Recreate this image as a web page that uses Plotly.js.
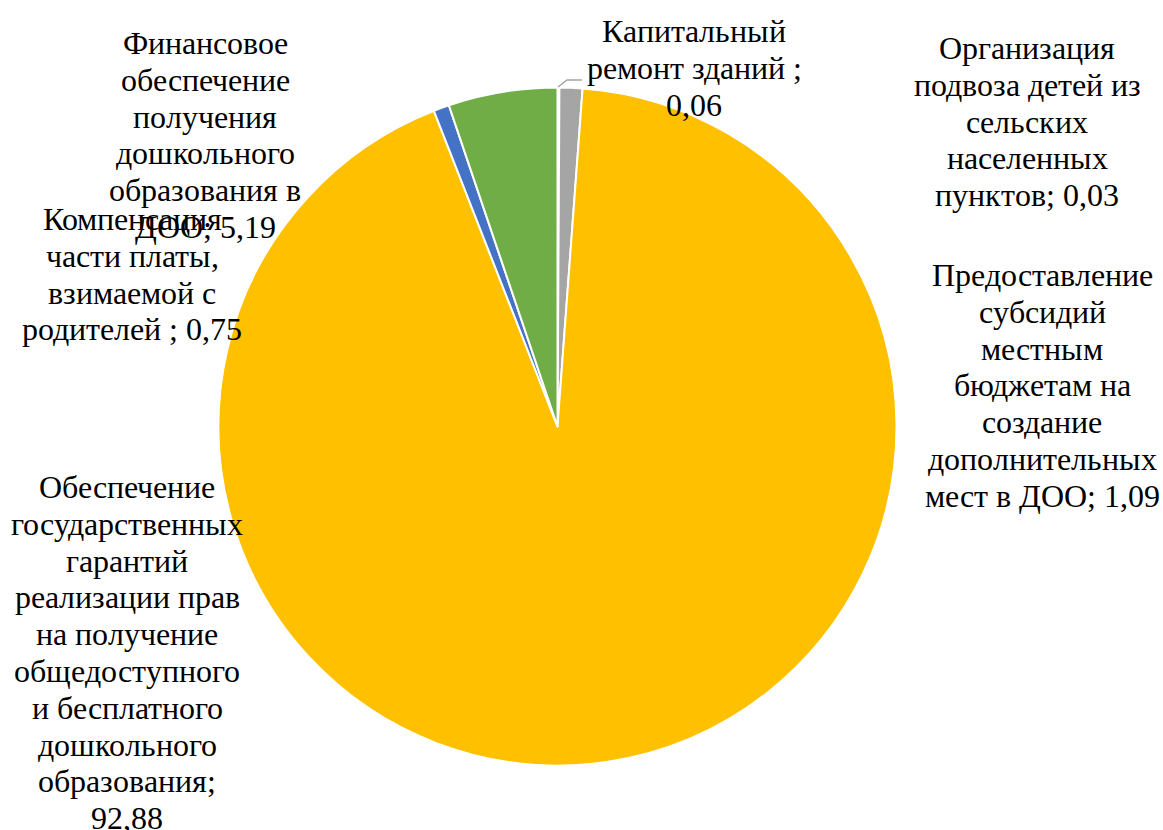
<!DOCTYPE html>
<html>
<head>
<meta charset="utf-8">
<script src="https://cdn.plot.ly/plotly-3.0.1.min.js"></script>
<style>
@font-face {
  font-family: 'LabelSerif';
  src: local('Liberation Serif'), local('LiberationSerif'), local('LiberationSerif-Regular'), local('Times New Roman');
  font-display: block;
}
html,body{margin:0;padding:0;background:#fff;}
#chart{width:1163px;height:830px;}
</style>
</head>
<body>
<div id="chart"></div>
<script>
// Data
const categories = [
  "Капитальный ремонт зданий",
  "Организация подвоза детей из сельских населенных пунктов",
  "Предоставление субсидий местным бюджетам на создание дополнительных мест в ДОО",
  "Обеспечение государственных гарантий реализации прав на получение общедоступного и бесплатного дошкольного образования",
  "Компенсация части платы, взимаемой с родителей",
  "Финансовое обеспечение получения дошкольного образования в ДОО"
];
const values = [0.06, 0.03, 1.09, 92.88, 0.75, 5.19];
const valueLabels = ["0,06", "0,03", "1,09", "92,88", "0,75", "5,19"];
const labelLines = [
  ["Капитальный", "ремонт зданий ;", "0,06"],
  ["Организация", "подвоза детей из", "сельских", "населенных", "пунктов; 0,03"],
  ["Предоставление", "субсидий", "местным", "бюджетам на", "создание", "дополнительных", "мест в ДОО; 1,09"],
  ["Обеспечение", "государственных", "гарантий", "реализации прав", "на получение", "общедоступного", "и бесплатного", "дошкольного", "образования;", "92,88"],
  ["Компенсация", "части платы,", "взимаемой с", "родителей ; 0,75"],
  ["Финансовое", "обеспечение", "получения", "дошкольного", "образования в", "ДОО; 5,19"]
];
const colors = ["#4472C4", "#ED7D31", "#A5A5A5", "#FFC000", "#4472C4", "#70AD47"];

// Layout (label placement in pixels: center x, first line center y)
const W = 1163, H = 830;
const labelPos = [
  [694, 31], [1027, 48], [1042, 275], [127, 487], [132, 219], [205, 43]
];
const lineGap = 36.8;
const FONT = 'LabelSerif, Liberation Serif, serif';

function buildLayout() {
  const annotations = [];
  labelLines.forEach((lines, i) => {
    lines.forEach((t, j) => {
      annotations.push({
        text: t, showarrow: false,
        xref: 'paper', yref: 'paper',
        x: labelPos[i][0] / W, y: 1 - (labelPos[i][1] + j * lineGap) / H,
        xanchor: 'center', yanchor: 'middle',
        font: {family: FONT, size: 32, color: '#000'}
      });
    });
  });
  const shapes = [{
    type: 'path', xref: 'paper', yref: 'paper',
    path: 'M ' + (558/W) + ',' + (1-87/H) + ' L ' + (567/W) + ',' + (1-80/H) + ' L ' + (582/W) + ',' + (1-80/H),
    line: {color: '#A5A5A5', width: 1.5}
  }];
  return {
    width: W, height: H,
    margin: {l: 0, r: 0, t: 0, b: 0},
    paper_bgcolor: '#ffffff',
    showlegend: false,
    annotations: annotations,
    shapes: shapes
  };
}

const cx = 557.5, cy = 426.5, r = 339;
function buildTrace() {
  return {
    type: 'pie',
    labels: categories,
    values: values,
    sort: false,
    direction: 'clockwise',
    rotation: 0,
    textinfo: 'none',
    hoverinfo: 'label+value',
    marker: {colors: colors, line: {color: '#ffffff', width: 2}},
    domain: {x: [(cx - r) / W, (cx + r) / W], y: [1 - (cy + r) / H, 1 - (cy - r) / H]}
  };
}

const cfg = {displayModeBar: false, staticPlot: true};
Plotly.newPlot('chart', [buildTrace()], buildLayout(), cfg);
if (document.fonts && document.fonts.load) {
  document.fonts.load('32px LabelSerif', 'Капитальный 0,06').then(() => {
    Plotly.react('chart', [buildTrace()], buildLayout(), cfg);
  }).catch(() => {});
}
</script>
</body>
</html>
